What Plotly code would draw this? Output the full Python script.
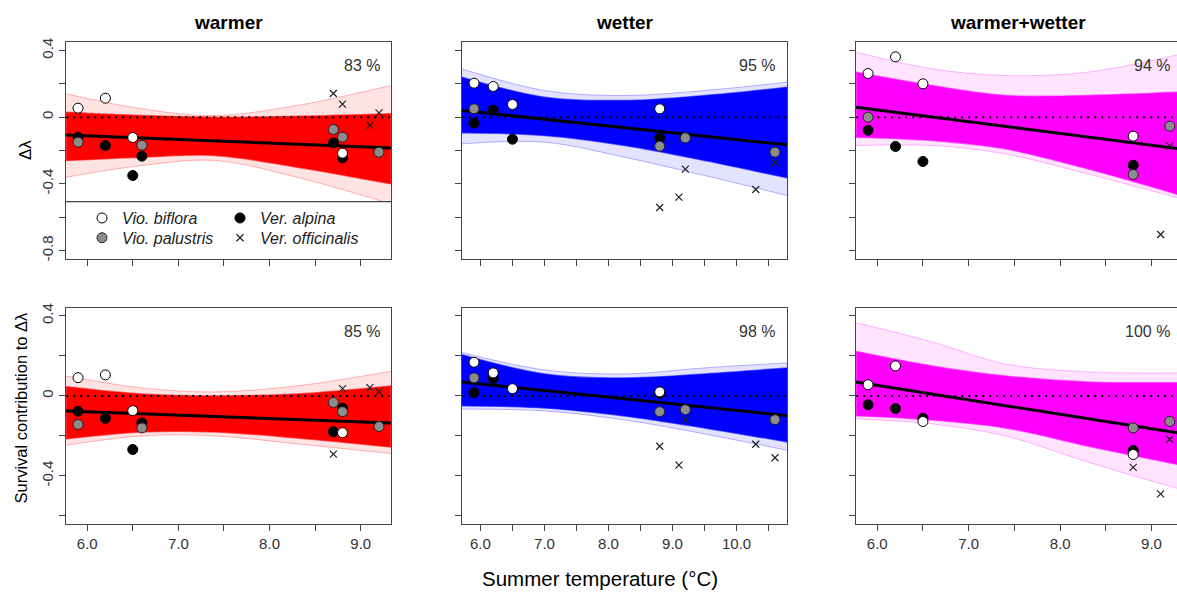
import plotly.graph_objects as go

W, H = 1177, 594
FONT = "Liberation Sans, Arial, sans-serif"

# ---------------- data ----------------
titles = ["warmer", "wetter", "warmer+wetter"]
pct_labels = ["83 %", "95 %", "94 %", "85 %", "98 %", "100 %"]
band_colors = ["255,0,0", "0,0,255", "255,0,255"]

# regression band envelopes, read at 5 temperatures per panel
band_t_a = [5.77, 6.6, 7.4, 8.3, 9.33]          # warmer / warmer+wetter
band_t_b = [5.71, 7.0, 8.25, 9.5, 10.79]         # wetter

# panel 1: warmer, delta lambda
p1_core_hi = [0.03, 0.01, 0.0, 0.005, 0.02]
p1_core_lo = [-0.26, -0.24, -0.23, -0.30, -0.40]
p1_out_hi = [0.14, 0.05, 0.01, 0.07, 0.19]
p1_out_lo = [-0.36, -0.29, -0.26, -0.36, -0.52]
p1_mean = [-0.107, -0.185]
# panel 2: wetter, delta lambda
p2_core_hi = [0.24, 0.12, 0.10, 0.13, 0.18]
p2_core_lo = [-0.094, -0.11, -0.17, -0.26, -0.364]
p2_out_hi = [0.29, 0.16, 0.13, 0.16, 0.21]
p2_out_lo = [-0.16, -0.15, -0.24, -0.35, -0.47]
p2_mean = [0.04, -0.166]
# panel 3: warmer+wetter, delta lambda
p3_core_hi = [0.27, 0.19, 0.13, 0.13, 0.15]
p3_core_lo = [-0.12, -0.14, -0.19, -0.31, -0.47]
p3_out_hi = [0.39, 0.29, 0.25, 0.27, 0.38]
p3_out_lo = [-0.17, -0.17, -0.22, -0.34, -0.49]
p3_mean = [0.06, -0.192]
# panel 4: warmer, survival contribution
p4_core_hi = [0.046, 0.01, 0.0, 0.01, 0.05]
p4_core_lo = [-0.214, -0.18, -0.18, -0.21, -0.255]
p4_out_hi = [0.099, 0.04, 0.02, 0.05, 0.123]
p4_out_lo = [-0.247, -0.20, -0.20, -0.24, -0.288]
p4_mean = [-0.076, -0.135]
# panel 5: wetter, survival contribution
p5_core_hi = [0.206, 0.11, 0.09, 0.11, 0.14]
p5_core_lo = [-0.049, -0.06, -0.10, -0.16, -0.23]
p5_out_hi = [0.217, 0.13, 0.11, 0.14, 0.165]
p5_out_lo = [-0.066, -0.075, -0.12, -0.19, -0.272]
p5_mean = [0.069, -0.099]
# panel 6: warmer+wetter, survival contribution
p6_core_hi = [0.222, 0.15, 0.10, 0.07, 0.066]
p6_core_lo = [-0.099, -0.12, -0.16, -0.25, -0.346]
p6_out_hi = [0.365, 0.27, 0.16, 0.12, 0.115]
p6_out_lo = [-0.115, -0.14, -0.20, -0.33, -0.469]
p6_mean = [0.069, -0.188]

# species points: (temperature, value) per panel
p1_biflora_t = [5.9, 6.2, 6.5, 8.8];            p1_biflora_v = [0.054, 0.114, -0.122, -0.216]
p1_palustris_t = [5.9, 6.6, 8.7, 8.8, 9.2];     p1_palustris_v = [-0.150, -0.168, -0.074, -0.120, -0.210]
p1_alpina_t = [5.9, 6.2, 6.5, 6.6, 8.7, 8.8];   p1_alpina_v = [-0.120, -0.170, -0.350, -0.234, -0.154, -0.244]
p1_offic_t = [8.7, 8.8, 9.1, 9.2];              p1_offic_v = [0.142, 0.078, -0.048, 0.026]

p2_biflora_t = [5.9, 6.2, 6.5, 8.8];            p2_biflora_v = [0.204, 0.184, 0.076, 0.050]
p2_palustris_t = [5.9, 8.8, 9.2, 10.6];         p2_palustris_v = [0.050, -0.174, -0.124, -0.210]
p2_alpina_t = [5.9, 6.2, 6.5, 8.8];             p2_alpina_v = [-0.036, 0.042, -0.132, -0.124]
p2_offic_t = [8.8, 9.1, 9.2, 10.3, 10.6];       p2_offic_v = [-0.542, -0.480, -0.312, -0.434, -0.272]

p3_biflora_t = [5.9, 6.2, 6.5, 8.8];            p3_biflora_v = [0.262, 0.362, 0.200, -0.114]
p3_palustris_t = [5.9, 8.8, 9.2];               p3_palustris_v = [0.000, -0.344, -0.054]
p3_alpina_t = [5.9, 6.2, 6.5, 8.8];             p3_alpina_v = [-0.078, -0.176, -0.266, -0.288]
p3_offic_t = [9.1, 9.2];                        p3_offic_v = [-0.704, -0.174]

p4_biflora_t = [5.9, 6.2, 6.5, 8.8];            p4_biflora_v = [0.091, 0.105, -0.074, -0.184]
p4_palustris_t = [5.9, 6.6, 8.7, 8.8, 9.2];     p4_palustris_v = [-0.143, -0.160, -0.033, -0.079, -0.153]
p4_alpina_t = [5.9, 6.2, 6.5, 6.6, 8.7, 8.8];   p4_alpina_v = [-0.077, -0.112, -0.268, -0.135, -0.179, -0.061]
p4_offic_t = [8.7, 8.8, 9.1, 9.2];              p4_offic_v = [-0.291, 0.036, 0.041, 0.021]

p5_biflora_t = [5.9, 6.2, 6.5, 8.8];            p5_biflora_v = [0.168, 0.115, 0.036, 0.020]
p5_palustris_t = [5.9, 8.8, 9.2, 10.6];         p5_palustris_v = [0.090, -0.079, -0.069, -0.119]
p5_alpina_t = [5.9, 6.2, 8.8];                  p5_alpina_v = [0.016, 0.087, 0.013]
p5_offic_t = [8.8, 9.1, 9.2, 10.3, 10.6];       p5_offic_v = [-0.252, -0.346, -0.119, -0.242, -0.309]

p6_biflora_t = [5.9, 6.2, 6.5, 8.8];            p6_biflora_v = [0.056, 0.150, -0.128, -0.293]
p6_palustris_t = [8.8, 9.2];                    p6_palustris_v = [-0.160, -0.128]
p6_alpina_t = [5.9, 6.2, 6.5, 8.8];             p6_alpina_v = [-0.044, -0.063, -0.112, -0.273]
p6_offic_t = [8.8, 9.1, 9.2];                   p6_offic_v = [-0.357, -0.490, -0.217]

species_names = ["Vio. biflora", "Ver. alpina", "Vio. palustris", "Ver. officinalis"]

x_ticks_a = [6.0, 6.5, 7.0, 7.5, 8.0, 8.5, 9.0]
x_ticks_b = [6.0, 6.5, 7.0, 7.5, 8.0, 8.5, 9.0, 9.5, 10.0, 10.5]
y_ticks_top = [-0.8, -0.6, -0.4, -0.2, 0.0, 0.2, 0.4]
y_ticks_bot = [-0.6, -0.4, -0.2, 0.0, 0.2, 0.4]

# ---------------- layout geometry ----------------
col_px = [(66, 391), (462, 787), (856, 1177)]
row_px = [(38, 257), (307, 526)]
x_ranges = [[5.768, 9.332], [5.712, 10.788], [5.768, 9.279]]
y_ranges = [[-0.848, 0.448], [-0.64, 0.44]]

bands = [
    (band_t_a, p1_core_hi, p1_core_lo, p1_out_hi, p1_out_lo, p1_mean),
    (band_t_b, p2_core_hi, p2_core_lo, p2_out_hi, p2_out_lo, p2_mean),
    (band_t_a, p3_core_hi, p3_core_lo, p3_out_hi, p3_out_lo, p3_mean),
    (band_t_a, p4_core_hi, p4_core_lo, p4_out_hi, p4_out_lo, p4_mean),
    (band_t_b, p5_core_hi, p5_core_lo, p5_out_hi, p5_out_lo, p5_mean),
    (band_t_a, p6_core_hi, p6_core_lo, p6_out_hi, p6_out_lo, p6_mean),
]
points = [
    (p1_biflora_t, p1_biflora_v, p1_alpina_t, p1_alpina_v, p1_palustris_t, p1_palustris_v, p1_offic_t, p1_offic_v),
    (p2_biflora_t, p2_biflora_v, p2_alpina_t, p2_alpina_v, p2_palustris_t, p2_palustris_v, p2_offic_t, p2_offic_v),
    (p3_biflora_t, p3_biflora_v, p3_alpina_t, p3_alpina_v, p3_palustris_t, p3_palustris_v, p3_offic_t, p3_offic_v),
    (p4_biflora_t, p4_biflora_v, p4_alpina_t, p4_alpina_v, p4_palustris_t, p4_palustris_v, p4_offic_t, p4_offic_v),
    (p5_biflora_t, p5_biflora_v, p5_alpina_t, p5_alpina_v, p5_palustris_t, p5_palustris_v, p5_offic_t, p5_offic_v),
    (p6_biflora_t, p6_biflora_v, p6_alpina_t, p6_alpina_v, p6_palustris_t, p6_palustris_v, p6_offic_t, p6_offic_v),
]

AX = "#444444"
TXT = "#333333"

fig = go.Figure()
layout = dict(
    width=W, height=H, margin=dict(l=0, r=0, t=0, b=0),
    plot_bgcolor="white", paper_bgcolor="white",
    font=dict(family=FONT, color=TXT, size=15),
    showlegend=True, annotations=[], shapes=[],
)

marker_styles = {
    "Vio. biflora": dict(symbol="circle", size=10, color="white", line=dict(color="black", width=1)),
    "Ver. alpina": dict(symbol="circle", size=10, color="black", line=dict(color="black", width=1)),
    "Vio. palustris": dict(symbol="circle", size=10, color="#8c8c8c", line=dict(color="#222", width=1)),
    "Ver. officinalis": dict(symbol="x-thin", size=7, color="#222", line=dict(color="#222", width=1.2)),
}
legend_of = {"Vio. biflora": "legend", "Ver. alpina": "legend",
             "Vio. palustris": "legend2", "Ver. officinalis": "legend2"}
rank_of = {"Vio. biflora": 1, "Ver. alpina": 2, "Vio. palustris": 1, "Ver. officinalis": 2}

for i in range(6):
    r, c = divmod(i, 3)
    k = "" if i == 0 else str(i + 1)
    xa, ya = "x" + k, "y" + k
    x0, x1 = col_px[c]
    y0, y1 = row_px[r]
    xt = x_ticks_b if c == 1 else x_ticks_a
    yt = y_ticks_top if r == 0 else y_ticks_bot
    xtext = [("%.1f" % v if (r == 1 and abs(v - round(v)) < 1e-9) else "") for v in xt]
    ylab = {0.4: "0.4", 0.0: "0", -0.4: "-0.4", -0.8: "-0.8"}
    ytext = [(ylab.get(round(v, 1), "") if c == 0 else "") for v in yt]
    layout["xaxis" + k] = dict(
        domain=[x0 / W, x1 / W], range=x_ranges[c], anchor=ya,
        showline=True, linecolor=AX, linewidth=1.3, mirror=True,
        ticks="outside", ticklen=6, tickwidth=1.2, tickcolor=AX,
        tickvals=xt, ticktext=xtext, tickfont=dict(size=15, color=TXT),
        showgrid=False, zeroline=False, fixedrange=True,
    )
    layout["yaxis" + k] = dict(
        domain=[1 - y1 / H, 1 - y0 / H], range=y_ranges[r], anchor=xa,
        showline=True, linecolor=AX, linewidth=1.3, mirror=(c != 2),
        ticks="outside", ticklen=6, tickwidth=1.2, tickcolor=AX,
        tickvals=yt, ticktext=ytext, tickangle=-90, tickfont=dict(size=15, color=TXT),
        showgrid=False, zeroline=False, fixedrange=True,
    )

    bt, chi, clo, ohi, olo, mline = bands[i]
    col = band_colors[c]
    common = dict(xaxis=xa, yaxis=ya, mode="lines", hoverinfo="skip", showlegend=False)
    fig.add_trace(go.Scatter(x=bt, y=olo, line=dict(color=f"rgba({col},0.28)", width=1, shape="spline"), **common))
    fig.add_trace(go.Scatter(x=bt, y=ohi, line=dict(color=f"rgba({col},0.28)", width=1, shape="spline"),
                             fill="tonexty", fillcolor=f"rgba({col},0.11)", **common))
    fig.add_trace(go.Scatter(x=bt, y=clo, line=dict(color=f"rgba({col},0.6)", width=1.5, shape="spline"), **common))
    fig.add_trace(go.Scatter(x=bt, y=chi, line=dict(color=f"rgba({col},0.6)", width=1.5, shape="spline"),
                             fill="tonexty", fillcolor=f"rgb({col})", **common))
    # zero reference (dotted) and mean regression line
    fig.add_trace(go.Scatter(x=[bt[0], bt[-1]], y=[0, 0],
                             line=dict(color="black", width=2, dash="2px,5px"), **common))
    fig.add_trace(go.Scatter(x=[bt[0], bt[-1]], y=mline, line=dict(color="black", width=3), **common))

    bft, bfv, alt, alv, pat, pav, oft, ofv = points[i]
    for name, tt, vv in [("Ver. alpina", alt, alv), ("Vio. palustris", pat, pav),
                         ("Vio. biflora", bft, bfv), ("Ver. officinalis", oft, ofv)]:
        fig.add_trace(go.Scatter(
            x=tt, y=vv, mode="markers", xaxis=xa, yaxis=ya, name=name,
            marker=marker_styles[name], hoverinfo="skip",
            showlegend=(i == 0), legend=legend_of[name], legendrank=rank_of[name],
        ))

    # percentage labels
    xr = {0: 382, 1: 777, 2: 1172}[c]
    yc = 61 if r == 0 else 331
    layout["annotations"].append(dict(
        text=pct_labels[i], xref="paper", yref="paper", x=xr / W, y=1 - yc / H,
        xanchor="right", yanchor="middle", showarrow=False,
        font=dict(size=16, color=TXT, family=FONT)))
    if r == 0:
        layout["annotations"].append(dict(
            text="<b>" + titles[c] + "</b>", xref="paper", yref="paper",
            x=((x0 + x1) / 2 if c < 2 else 1018) / W, y=1 - 18 / H,
            xanchor="center", yanchor="middle", showarrow=False,
            font=dict(size=19, color="black", family=FONT)))

# legend area inside panel 1
layout["shapes"].append(dict(type="rect", xref="x domain", yref="y", x0=0, x1=1, y0=-0.848, y1=-0.506,
                             fillcolor="white", line=dict(width=0), layer="above"))
layout["shapes"].append(dict(type="line", xref="x domain", yref="y", x0=0, x1=1, y0=-0.506, y1=-0.506,
                             line=dict(color=AX, width=1.3), layer="above"))

leg_common = dict(orientation="h", xanchor="left", yanchor="middle", entrywidth=93, entrywidthmode="pixels",
                  bgcolor="rgba(0,0,0,0)", borderwidth=0, traceorder="normal",
                  font=dict(family=FONT, size=16, style="italic", color="#222"),
                  itemclick=False, itemdoubleclick=False)
layout["legend"] = dict(x=82 / W, y=1 - 216 / H, **leg_common)
layout["legend2"] = dict(x=82 / W, y=1 - 236 / H, **leg_common)

# axis labels
layout["annotations"] += [
    dict(text="Δλ", xref="paper", yref="paper", x=25 / W, y=1 - 147 / H, textangle=-90,
         showarrow=False, xanchor="center", yanchor="middle", font=dict(size=17, color="black")),
    dict(text="Survival contribution to Δλ", xref="paper", yref="paper", x=21 / W, y=1 - 408 / H,
         textangle=-90, showarrow=False, xanchor="center", yanchor="middle", font=dict(size=16.5, color="black")),
    dict(text="Summer temperature (°C)", xref="paper", yref="paper", x=600 / W, y=1 - 581 / H,
         showarrow=False, xanchor="center", yanchor="middle", font=dict(size=20.5, color="black")),
]

fig.update_layout(**layout)
fig.write_html("out.html")
